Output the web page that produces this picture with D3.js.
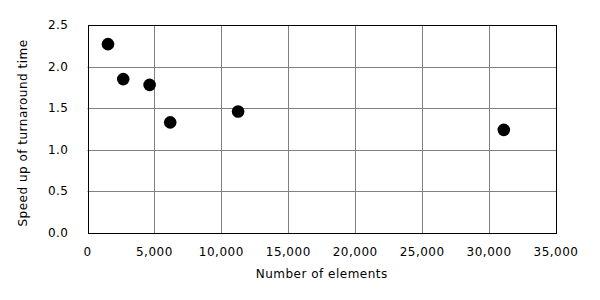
<!DOCTYPE html>
<html>
<head>
<meta charset="utf-8">
<script src="https://cdn.jsdelivr.net/npm/d3@7"></script>
<style>
body{margin:0;background:#fff;}
text{font-family:"DejaVu Sans",Verdana,sans-serif;font-size:12px;fill:#000;letter-spacing:0.5px;}
</style>
</head>
<body>
<div id="chart"></div>
<script>
// values
var elements=[1530,2670,4640,6180,11250,31100];
var speedup=[2.27,1.85,1.78,1.33,1.46,1.24];
var xTicks=[0,5000,10000,15000,20000,25000,30000,35000];
var yTicks=[0,0.5,1.0,1.5,2.0,2.5];

var width=600,height=300;
var margin={left:87.5,top:25,right:44,bottom:67};

var svg=d3.select("#chart").append("svg")
	.attr("width",width)
	.attr("height",height);

var x=d3.scaleLinear().domain([0,35000]).range([margin.left,width-margin.right]);
var y=d3.scaleLinear().domain([0,2.5]).range([height-margin.bottom,margin.top]);

var fmt=d3.format(",");

//grid
svg.selectAll(".vgrid").data(xTicks.slice(1,-1)).enter().append("line")
	.attr("x1",function(d){return Math.round(x(d))+0.5;})
	.attr("x2",function(d){return Math.round(x(d))+0.5;})
	.attr("y1",y(0)).attr("y2",y(2.5))
	.attr("stroke","#808080");
svg.selectAll(".hgrid").data(yTicks.slice(1,-1)).enter().append("line")
	.attr("y1",function(d){return Math.round(y(d))+0.5;})
	.attr("y2",function(d){return Math.round(y(d))+0.5;})
	.attr("x1",x(0)).attr("x2",x(35000))
	.attr("stroke","#808080");

//frame
svg.append("rect")
	.attr("x",Math.round(x(0))+0.5)
	.attr("y",Math.round(y(2.5))+0.5)
	.attr("width",Math.round(x(35000))-Math.round(x(0)))
	.attr("height",Math.round(y(0))-Math.round(y(2.5)))
	.attr("fill","none")
	.attr("stroke","#000");

//tick labels
svg.selectAll(".xt").data(xTicks).enter().append("text")
	.attr("x",function(d){return x(d);})
	.attr("y",y(0)+23)
	.attr("text-anchor","middle")
	.text(function(d){return fmt(d);});
svg.selectAll(".yt").data(yTicks).enter().append("text")
	.attr("x",x(0)-19)
	.attr("y",function(d){return y(d)+4;})
	.attr("text-anchor","end")
	.text(function(d){return d.toFixed(1);});

//axis titles
svg.append("text")
	.attr("x",(x(0)+x(35000))/2)
	.attr("y",y(0)+45)
	.attr("text-anchor","middle")
	.text("Number of elements");
svg.append("text")
	.attr("transform","translate(27,"+133+") rotate(-90)")
	.attr("text-anchor","middle")
	.text("Speed up of turnaround time");

//points
svg.selectAll(".pt").data(elements).enter().append("circle")
	.attr("cx",function(d){return x(d);})
	.attr("cy",function(d,i){return y(speedup[i]);})
	.attr("r",6.3)
	.attr("fill","#000");
</script>
</body>
</html>
